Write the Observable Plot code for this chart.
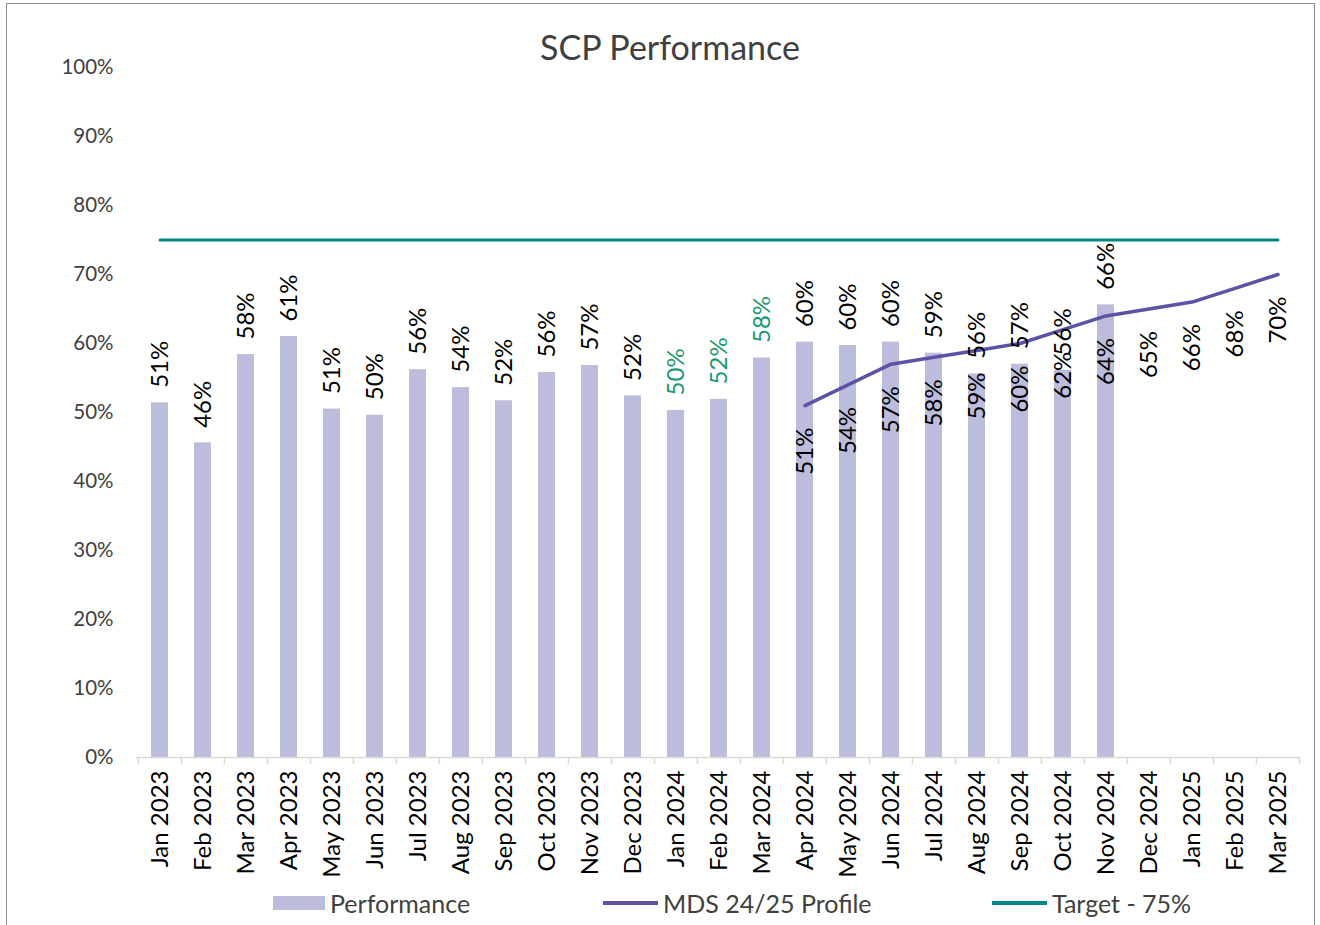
<!DOCTYPE html>
<html><head><meta charset="utf-8">
<script src="https://cdn.jsdelivr.net/npm/d3@7"></script>
<script src="https://cdn.jsdelivr.net/npm/@observablehq/plot@0.6"></script>
<style>
body{margin:0;background:#fff;font-family:Lato, "Noto Sans", sans-serif;}
#wrap{position:relative;width:1320px;height:925px;overflow:hidden;background:#fff;}
#frame{position:absolute;left:6px;top:3px;width:1309px;height:960px;border:1.5px solid #8c8c8c;box-sizing:border-box;}
#title{position:absolute;left:0;width:1340px;top:28px;text-align:center;font-size:34px;color:#404040;line-height:38px;}
#chart{position:absolute;left:0;top:0;}
.leg{position:absolute;top:889px;height:28px;display:flex;align-items:center;font-size:25px;color:#404040;white-space:nowrap;}
.sw{display:inline-block;margin-right:5px;}
</style></head>
<body><div id="wrap"><div id="frame"></div><div id="chart"></div><div id="title">SCP Performance</div>
<div class="leg" style="left:273px"><span class="sw" style="width:52px;height:14px;background:#bcbcdc"></span>Performance</div>
<div class="leg" style="left:603px"><span class="sw" style="width:55px;height:4px;background:#5b54a6"></span>MDS 24/25 Profile</div>
<div class="leg" style="left:992px"><span class="sw" style="width:55px;height:4px;background:#00868b"></span>Target - 75%</div>
</div>
<script>
const months = ["Jan 2023","Feb 2023","Mar 2023","Apr 2023","May 2023","Jun 2023","Jul 2023","Aug 2023","Sep 2023","Oct 2023","Nov 2023","Dec 2023","Jan 2024","Feb 2024","Mar 2024","Apr 2024","May 2024","Jun 2024","Jul 2024","Aug 2024","Sep 2024","Oct 2024","Nov 2024","Dec 2024","Jan 2025","Feb 2025","Mar 2025"];
const perfMonths = months.slice(0, 23);
const perfValues = [51.4,45.6,58.4,61.0,50.5,49.6,56.2,53.6,51.7,55.8,56.8,52.4,50.3,51.9,57.9,60.2,59.7,60.2,58.6,55.6,57.0,56.1,65.6];
const greenLabelMonths = ["Jan 2024","Feb 2024","Mar 2024"];
const mdsMonths = ["Apr 2024","May 2024","Jun 2024","Jul 2024","Aug 2024","Sep 2024","Oct 2024","Nov 2024","Dec 2024","Jan 2025","Feb 2025","Mar 2025"];
const mdsValues = [51,54,57,58,59,60,62,64,65,66,68,70];
const targetValue = 75;
const yTicks = [0,10,20,30,40,50,60,70,80,90,100];

const perf = perfMonths.map((m,i)=>({month:m, value:perfValues[i]}));
const mds = mdsMonths.map((m,i)=>({month:m, value:mdsValues[i]}));
const target = months.map(m=>({month:m, value:targetValue}));

const W = 1320, H = 885, ML = 136, MR = 20, MT = 67, MB = 128;
const bw = (W - ML - MR) / months.length;

const chart = Plot.plot({
  width: W, height: H,
  marginLeft: ML, marginRight: MR, marginTop: MT, marginBottom: MB,
  style: {fontFamily: "Lato, 'Noto Sans', sans-serif", fontSize: "21px", background: "transparent"},
  x: {type: "band", domain: months, padding: 0, label: null},
  y: {domain: [0, 100], label: null},
  marks: [
    Plot.barY(perf, {x: "month", y: "value", fill: "#bcbcdc", insetLeft: 13, insetRight: 13}),
    Plot.ruleY([0], {stroke: "#d9d9d9", strokeWidth: 1.5}),
    Plot.axisX({ticks: months, tickSize: 7, tickFormat: () => "", stroke: "#d9d9d9", strokeWidth: 1.5, dx: -bw/2, label: null}),
    Plot.axisX({ticks: [months[months.length-1]], tickSize: 7, tickFormat: () => "", stroke: "#d9d9d9", strokeWidth: 1.5, dx: bw/2, label: null}),
    Plot.axisY({ticks: yTicks, tickFormat: d => d + "%", tickSize: 0, tickPadding: 23, fontSize: 20.5, fill: "#404040", label: null}),
    Plot.text(months, {x: d => d, frameAnchor: "bottom", dy: 13, rotate: -90, textAnchor: "end", lineAnchor: "middle", fontSize: 24, fill: "#000"}),
    Plot.lineY(target, {x: "month", y: "value", stroke: "#00868b", strokeWidth: 3}),
    Plot.lineY(mds, {x: "month", y: "value", stroke: "#5b54a6", strokeWidth: 3.5}),
    Plot.text(perf, {x: "month", y: "value", text: d => Math.round(d.value) + "%", rotate: -90, textAnchor: "start", lineAnchor: "middle", dy: -15, fontSize: 24,
      fill: d => greenLabelMonths.includes(d.month) ? "#1b9a6b" : "#000"}),
    Plot.text(mds, {x: "month", y: "value", text: d => d.value + "%", rotate: -90, textAnchor: "end", lineAnchor: "middle", dy: 22, fontSize: 24, fill: "#000"})
  ]
});
document.getElementById("chart").appendChild(chart);
</script>
</body></html>
